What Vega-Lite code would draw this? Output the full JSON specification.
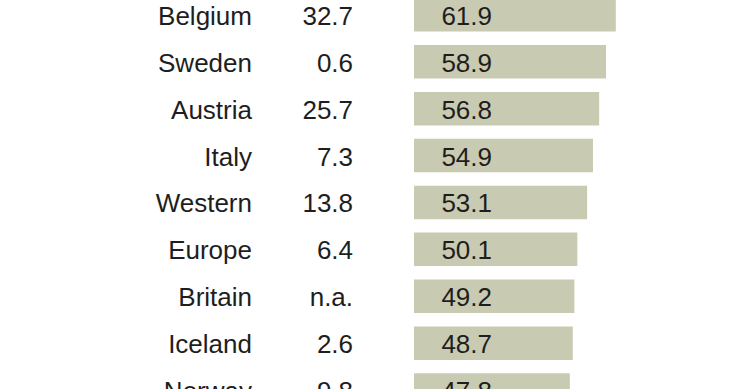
{
  "$schema": "https://vega.github.io/schema/vega-lite/v6.json",
  "width": 740,
  "height": 389,
  "padding": 0,
  "autosize": "none",
  "background": "white",
  "config": {"view": {"stroke": null}},
  "data": {
    "values": [
      {"country": "Belgium", "col2": "32.7", "value": 61.9},
      {"country": "Sweden", "col2": "0.6", "value": 58.9},
      {"country": "Austria", "col2": "25.7", "value": 56.8},
      {"country": "Italy", "col2": "7.3", "value": 54.9},
      {"country": "Western", "col2": "13.8", "value": 53.1},
      {"country": "Europe", "col2": "6.4", "value": 50.1},
      {"country": "Britain", "col2": "n.a.", "value": 49.2},
      {"country": "Iceland", "col2": "2.6", "value": 48.7},
      {"country": "Norway", "col2": "9.8", "value": 47.8}
    ]
  },
  "encoding": {
    "y": {
      "field": "country",
      "type": "nominal",
      "sort": null,
      "axis": null,
      "scale": {"range": [-8.6, 413.5], "paddingInner": 0.286, "paddingOuter": 0.143}
    }
  },
  "layer": [
    {
      "mark": {"type": "bar", "color": "#c9cab2"},
      "encoding": {
        "x": {"field": "value", "type": "quantitative", "axis": null, "scale": {"domain": [-127, 100], "nice": false, "zero": false}}
      }
    },
    {
      "mark": {"type": "text", "align": "right", "baseline": "middle", "font": "Liberation Sans", "fontSize": 26, "color": "#1e1e1e", "dy": 2},
      "encoding": {
        "x": {"datum": -49.7, "type": "quantitative"},
        "text": {"field": "country"}
      }
    },
    {
      "mark": {"type": "text", "align": "right", "baseline": "middle", "font": "Liberation Sans", "fontSize": 26, "color": "#1e1e1e", "dy": 2},
      "encoding": {
        "x": {"datum": -18.7, "type": "quantitative"},
        "text": {"field": "col2"}
      }
    },
    {
      "mark": {"type": "text", "align": "left", "baseline": "middle", "font": "Liberation Sans", "fontSize": 26, "color": "#1e1e1e", "dy": 2},
      "encoding": {
        "x": {"datum": 8.4, "type": "quantitative"},
        "text": {"field": "value", "format": ".1f"}
      }
    }
  ]
}
